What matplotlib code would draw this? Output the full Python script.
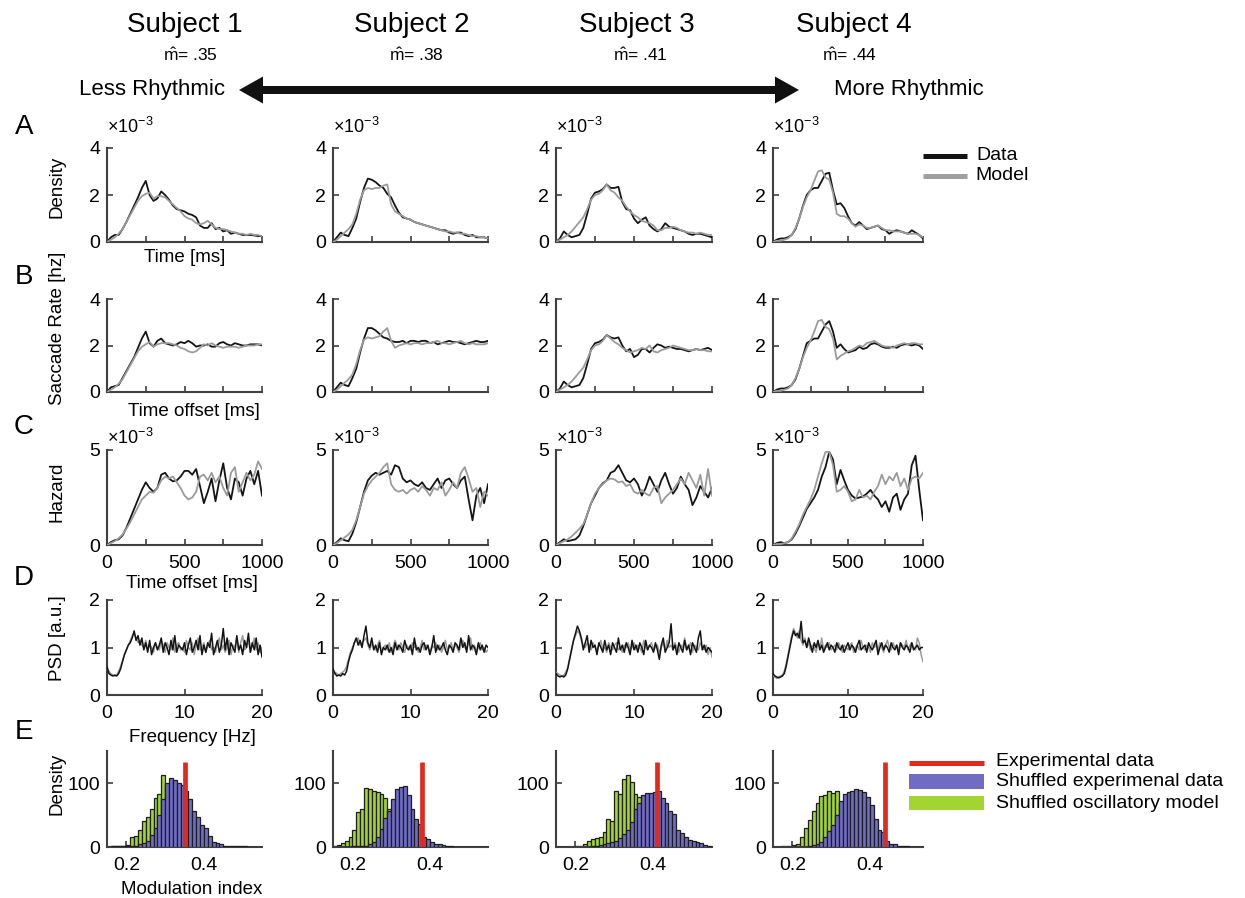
import numpy as np
import matplotlib
matplotlib.use("Agg")
import matplotlib.pyplot as plt
from matplotlib.patches import FancyArrow, Rectangle
from matplotlib.lines import Line2D

plt.rcParams["font.family"] = ["Liberation Sans", "DejaVu Sans"]
plt.rcParams["mathtext.fontset"] = "custom"
plt.rcParams["mathtext.rm"] = "Liberation Sans"
plt.rcParams["mathtext.it"] = "Liberation Sans:italic"
plt.rcParams["mathtext.bf"] = "Liberation Sans:bold"

# ---------------------------------------------------------------- data
subjects = ["Subject 1", "Subject 2", "Subject 3", "Subject 4"]
m_hat = [0.35, 0.38, 0.41, 0.44]          # modulation index of each subject

time_ms = np.arange(0, 1001, 25)          # 41 samples
freq_hz = np.arange(0, 20.001, 0.25)      # 81 samples
hist_edges = np.round(np.arange(0.15, 0.5501, 0.01), 2)   # 40 bins

# A: saccade density (x 1e-3)
density_data = [
    [0.0,0.2,0.3,0.3,0.55,0.85,1.2,1.55,1.9,2.3,2.6,2.0,1.75,1.85,2.15,2.0,1.8,1.55,1.4,1.35,1.3,1.2,1.15,1.05,0.7,0.6,0.6,0.8,0.55,0.6,0.45,0.5,0.35,0.4,0.35,0.3,0.3,0.3,0.28,0.25,0.25],
    [0,0.2,0.4,0.3,0.25,0.6,1.0,1.7,2.3,2.7,2.65,2.55,2.4,2.3,2.05,1.9,1.55,1.25,1.05,1.0,0.95,0.85,0.8,0.75,0.7,0.65,0.6,0.55,0.5,0.5,0.4,0.35,0.4,0.4,0.3,0.25,0.3,0.2,0.2,0.2,0.15],
    [0,0.15,0.45,0.3,0.2,0.25,0.3,0.6,1.2,1.85,2.1,2.15,2.25,2.45,2.3,2.3,2.35,1.7,1.4,1.35,1.0,0.8,0.95,1.05,0.7,0.55,0.45,0.55,0.8,0.65,0.6,0.55,0.5,0.45,0.35,0.3,0.35,0.35,0.3,0.25,0.2],
    [0,0.1,0.15,0.15,0.2,0.3,0.55,1.0,1.55,2.0,2.2,2.3,2.3,2.6,2.9,2.95,2.2,1.6,1.65,1.45,1.1,0.8,0.7,0.85,0.7,0.55,0.6,0.65,0.7,0.55,0.5,0.35,0.45,0.5,0.45,0.4,0.35,0.5,0.4,0.3,0.15],
]
density_model = [
    [0.0,0.1,0.2,0.35,0.55,0.85,1.15,1.45,1.75,1.95,2.05,2.1,1.85,1.95,1.95,1.9,1.75,1.6,1.45,1.3,1.1,1.0,0.95,0.8,0.75,0.8,0.9,0.75,0.6,0.55,0.55,0.5,0.45,0.4,0.35,0.35,0.3,0.35,0.3,0.3,0.25],
    [0,0.1,0.25,0.4,0.55,0.75,1.2,1.8,2.2,2.3,2.25,2.3,2.3,2.4,2.45,1.6,1.3,1.2,1.1,1.0,0.95,0.85,0.8,0.75,0.7,0.65,0.6,0.55,0.5,0.45,0.45,0.4,0.4,0.35,0.35,0.3,0.25,0.25,0.2,0.2,0.15],
    [0,0.1,0.2,0.3,0.45,0.65,0.85,1.05,1.4,1.8,2.0,2.05,2.2,2.45,2.2,2.1,1.9,1.75,1.5,1.3,1.15,1.05,0.9,0.85,0.8,0.7,0.5,0.5,0.6,0.6,0.65,0.6,0.5,0.45,0.4,0.4,0.35,0.4,0.35,0.3,0.3],
    [0,0.05,0.05,0.1,0.15,0.3,0.6,1.0,1.5,1.9,2.2,2.6,3.0,3.05,2.75,2.65,2.1,1.2,1.1,1.1,1.0,0.8,0.65,0.75,0.7,0.6,0.6,0.65,0.7,0.6,0.5,0.5,0.45,0.45,0.45,0.4,0.35,0.35,0.35,0.3,0.2],
]

# B: saccade rate [hz]
rate_data = [
    [0,0.2,0.25,0.3,0.6,0.9,1.2,1.5,1.9,2.3,2.6,2.1,1.95,2.2,2.3,2.1,2.05,2.0,2.05,2.15,2.1,2.2,2.1,1.95,2.0,2.0,2.05,1.95,1.95,2.1,2.15,2.05,2.0,2.1,2.05,2.0,2.0,2.05,2.05,2.05,2.0],
    [0,0.2,0.4,0.3,0.25,0.6,1.0,1.7,2.3,2.75,2.75,2.65,2.5,2.35,2.3,2.2,2.15,2.15,2.2,2.1,2.2,2.2,2.15,2.2,2.2,2.1,2.15,2.05,2.1,2.15,2.2,2.15,2.15,2.1,2.05,2.1,2.15,2.2,2.15,2.15,2.2],
    [0,0.15,0.45,0.3,0.2,0.25,0.3,0.6,1.2,1.85,2.1,2.15,2.25,2.45,2.35,2.3,2.35,2.0,1.75,1.85,1.5,1.6,1.85,1.85,1.7,1.9,2.05,2.0,1.9,1.95,1.9,1.85,1.85,1.8,1.75,1.8,1.85,1.8,1.85,1.9,1.8],
    [0,0.1,0.15,0.15,0.2,0.3,0.55,1.0,1.55,2.1,2.2,2.3,2.3,2.6,2.9,3.05,2.6,1.9,2.05,1.85,1.7,1.75,1.8,1.95,1.85,1.9,2.05,2.1,2.05,1.95,1.9,1.9,1.95,1.9,2.0,2.05,2.05,2.0,2.05,2.0,1.85],
]
rate_model = [
    [0,0.1,0.2,0.35,0.55,0.85,1.15,1.45,1.75,1.95,2.05,2.15,1.95,2.05,2.1,2.1,2.1,2.05,2.0,1.9,1.85,1.75,1.7,1.75,1.9,2.05,2.0,2.1,2.0,1.95,1.9,1.95,1.95,1.95,1.9,1.95,2.0,2.0,2.0,2.05,2.05],
    [0,0.1,0.25,0.4,0.55,0.75,1.2,1.8,2.25,2.35,2.3,2.35,2.4,2.6,2.75,2.2,1.9,2.0,2.05,2.1,2.05,2.1,2.1,2.05,2.1,2.1,2.15,2.2,2.1,2.1,2.05,2.1,2.15,2.2,2.1,2.05,2.1,2.05,2.05,2.05,2.1],
    [0,0.1,0.2,0.3,0.45,0.65,0.85,1.05,1.4,1.8,2.0,2.05,2.2,2.45,2.3,2.15,2.05,1.9,1.8,1.7,1.75,1.8,1.9,1.85,2.0,1.75,1.7,1.8,1.85,1.9,2.0,1.95,1.9,1.85,1.8,1.8,1.85,1.8,1.8,1.75,1.75],
    [0,0.05,0.05,0.1,0.15,0.3,0.6,1.0,1.5,1.9,2.2,2.6,3.05,3.1,2.8,2.7,2.3,1.4,1.55,1.65,1.75,1.8,1.9,2.0,1.95,2.1,2.15,2.2,2.1,2.0,1.95,1.95,1.9,2.0,2.05,2.1,2.05,2.1,2.1,2.05,2.05],
]

# C: hazard (x 1e-3)
hazard_data = [
    [0,0.15,0.25,0.3,0.5,0.9,1.4,1.9,2.4,2.9,3.3,3.0,2.8,3.0,3.7,3.8,3.5,3.35,3.4,3.6,3.9,3.9,3.7,4.0,3.1,2.2,2.8,3.5,2.3,3.4,4.3,3.0,2.4,3.5,3.3,2.6,3.5,3.9,3.2,3.9,2.6],
    [0,0.15,0.35,0.25,0.2,0.6,1.2,2.0,2.8,3.4,3.65,3.8,3.7,3.8,3.9,3.7,4.2,4.1,3.5,3.3,3.4,3.2,3.1,3.3,3.0,2.9,3.2,3.5,3.0,3.4,3.5,3.2,3.0,3.4,3.6,2.4,1.3,2.6,3.0,2.2,3.2],
    [0,0.15,0.3,0.2,0.25,0.3,0.5,1.0,1.6,2.2,2.6,3.0,3.25,3.4,3.8,3.9,4.2,3.8,3.4,3.3,3.5,3.2,2.6,3.0,3.6,3.2,2.8,3.4,3.8,3.2,2.7,3.0,3.6,3.2,2.9,2.1,2.5,3.1,2.8,2.5,3.0],
    [0,0.1,0.15,0.1,0.15,0.3,0.6,1.0,1.45,1.9,2.2,2.5,2.9,3.6,4.1,4.9,4.5,3.2,3.95,3.4,2.9,2.6,2.45,2.5,2.55,2.7,2.9,2.6,2.4,2.0,2.3,1.75,2.5,2.7,1.85,2.4,2.7,4.2,4.7,2.9,1.3],
]
hazard_model = [
    [0,0.1,0.2,0.35,0.55,0.85,1.2,1.6,2.0,2.4,2.6,2.8,2.75,3.0,3.4,3.6,3.5,3.6,3.3,3.0,2.6,2.4,2.5,2.8,3.6,3.7,3.4,3.8,3.3,3.6,3.0,2.6,3.8,4.1,2.8,3.3,3.8,3.4,3.7,4.4,4.0],
    [0,0.1,0.25,0.4,0.55,0.8,1.3,2.0,2.7,3.1,3.4,3.6,3.8,4.1,4.3,3.2,2.9,2.8,2.9,2.7,2.9,3.0,2.8,3.1,2.9,2.6,3.0,2.9,3.3,2.6,2.9,3.3,3.0,3.8,4.1,3.5,2.8,3.0,2.0,2.8,2.6],
    [0,0.1,0.2,0.3,0.45,0.65,0.85,1.1,1.6,2.2,2.7,3.0,3.2,3.4,3.5,3.45,3.3,3.35,3.1,3.2,2.8,2.7,2.9,2.7,2.6,3.0,3.1,2.2,2.5,2.7,2.9,3.2,3.5,3.2,3.8,3.4,3.0,3.7,2.6,4.0,2.6],
    [0,0.05,0.05,0.1,0.15,0.35,0.7,1.1,1.6,2.0,2.4,2.9,3.6,4.3,4.9,4.9,4.2,2.8,2.9,3.1,2.8,2.3,2.4,2.9,2.5,2.6,2.4,2.8,3.1,3.7,3.2,3.6,3.4,3.8,3.1,3.5,2.9,3.5,3.6,3.5,3.8],
]

# D: power spectral density [a.u.]
psd_data = [
    [0.60,0.45,0.42,0.40,0.42,0.40,0.45,0.55,0.70,0.85,
     0.95,1.05,1.10,1.20,1.35,1.15,1.25,1.05,1.20,0.95,
     1.10,0.90,1.15,0.85,1.00,1.10,0.95,1.05,1.20,0.90,
     1.10,1.00,0.85,1.15,0.95,1.25,0.90,1.05,1.00,0.95,
     1.10,0.85,1.05,1.20,0.90,1.00,1.15,0.95,1.25,0.85,
     1.05,0.90,1.10,1.00,1.30,0.85,1.00,1.15,0.90,1.05,
     1.40,0.95,1.20,0.85,1.10,1.00,0.90,1.25,0.95,1.05,
     0.85,1.15,1.00,1.30,0.90,1.10,0.95,1.20,0.85,1.05,
     0.80],
    [0.55,0.45,0.40,0.42,0.40,0.45,0.42,0.50,0.70,0.85,
     0.95,1.10,1.20,1.05,1.15,1.00,1.25,1.45,1.10,1.00,
     1.20,0.95,1.05,0.90,1.10,0.85,1.00,0.95,1.05,0.90,
     1.00,0.85,1.10,0.95,1.05,1.00,0.90,1.15,1.00,0.95,
     1.05,0.85,1.20,0.95,1.00,0.90,1.05,1.10,0.95,1.05,
     0.85,1.00,1.25,0.90,1.05,0.95,1.00,1.10,0.95,0.85,
     1.05,1.00,0.90,1.10,1.05,0.95,1.20,1.00,1.10,0.90,
     1.25,0.95,1.05,1.00,0.85,1.10,0.95,1.05,0.90,1.05,
     1.00],
    [0.45,0.40,0.38,0.40,0.38,0.42,0.55,0.75,0.95,1.15,
     1.30,1.45,1.35,1.20,0.95,1.10,1.25,0.90,1.15,1.00,
     1.05,0.85,1.10,1.00,0.90,1.15,0.95,1.05,0.85,1.10,
     1.00,0.90,1.20,0.95,1.05,0.90,1.10,1.00,0.85,1.15,
     0.95,1.05,0.90,1.10,1.00,0.85,1.15,0.95,1.05,1.00,
     0.90,1.10,0.95,0.75,1.05,1.20,0.90,1.00,1.10,1.50,
     0.95,1.05,0.85,1.10,1.00,0.90,1.15,0.95,1.05,0.85,
     1.10,1.00,0.90,1.20,1.35,0.95,1.05,0.90,1.00,0.95,
     0.90],
    [0.45,0.40,0.38,0.36,0.38,0.40,0.45,0.60,0.80,1.00,
     1.20,1.35,1.25,1.30,1.20,1.55,1.10,1.15,1.00,1.20,
     1.05,0.90,1.10,1.00,1.15,0.95,1.05,0.90,1.00,1.10,
     0.95,1.05,1.00,0.90,1.10,1.00,0.95,1.05,0.90,1.00,
     1.10,0.95,1.05,1.00,0.90,1.05,1.15,0.95,1.00,1.05,
     0.90,1.10,1.00,0.95,1.05,1.15,0.85,1.00,1.10,0.95,
     1.05,1.00,0.90,1.10,1.00,0.95,1.05,0.85,1.10,1.00,
     0.95,1.05,1.00,0.90,1.10,0.95,1.00,1.05,0.95,1.00,
     1.00],
]
psd_model = [
    [0.55,0.50,0.45,0.42,0.40,0.42,0.50,0.60,0.72,0.85,
     0.95,1.05,1.15,1.25,1.30,1.20,1.10,1.15,1.05,1.00,
     1.15,0.95,1.05,1.00,0.90,1.10,1.00,0.95,1.15,1.05,
     0.90,1.10,1.00,0.95,1.20,0.90,1.05,1.10,0.95,1.00,
     0.90,1.15,1.00,0.95,1.10,0.85,1.05,1.20,0.95,1.00,
     1.10,0.90,1.05,1.15,0.95,1.00,0.90,1.10,1.20,0.95,
     1.05,0.90,1.00,1.15,0.85,1.05,1.00,1.20,0.90,1.10,
     1.25,0.95,1.00,1.15,0.90,1.05,1.20,0.95,1.10,0.90,
     1.00],
    [0.50,0.48,0.45,0.42,0.45,0.48,0.52,0.60,0.75,0.90,
     1.00,1.10,1.15,1.20,1.05,1.10,1.15,1.20,1.05,0.95,
     1.10,1.00,0.95,1.05,1.15,0.90,1.00,1.05,0.95,1.10,
     0.90,1.00,1.15,1.05,0.95,1.10,1.00,0.90,1.05,1.00,
     0.95,1.10,1.00,1.05,0.90,1.00,1.15,0.95,1.05,1.00,
     0.90,1.05,1.00,1.10,0.95,1.05,0.90,1.00,1.15,0.95,
     1.00,1.10,0.95,1.05,1.00,0.90,1.05,1.15,1.00,0.95,
     1.10,1.20,0.95,1.05,0.90,1.00,1.10,0.95,1.00,0.90,
     0.95],
    [0.48,0.45,0.42,0.40,0.42,0.48,0.58,0.78,0.98,1.15,
     1.25,1.35,1.30,1.15,1.05,1.00,1.10,1.05,0.95,1.10,
     1.00,0.95,1.05,1.15,0.95,1.00,0.90,1.10,1.00,0.95,
     1.05,1.10,0.95,1.00,0.90,1.05,1.00,1.10,0.95,1.00,
     1.10,0.95,1.05,1.00,0.90,1.15,1.00,0.95,1.05,1.10,
     0.95,1.00,1.05,0.90,1.00,1.10,0.95,1.15,1.00,1.05,
     0.95,1.10,1.00,0.90,1.05,1.00,1.20,0.95,1.00,1.10,
     0.90,1.05,1.00,0.95,1.10,1.00,0.95,1.05,0.85,1.00,
     0.80],
    [0.42,0.38,0.35,0.38,0.40,0.42,0.50,0.65,0.85,1.05,
     1.25,1.40,1.30,1.20,1.35,1.15,1.05,1.20,1.00,1.10,
     0.95,1.05,1.00,0.90,1.10,1.00,1.20,0.95,1.05,1.00,
     1.10,0.95,1.00,1.05,0.95,1.10,1.00,0.90,1.05,1.00,
     0.95,1.05,1.10,0.90,1.00,1.05,0.95,1.15,1.00,0.95,
     1.05,1.00,0.90,1.10,1.00,1.05,0.95,1.10,1.00,0.90,
     1.05,1.15,1.00,0.95,1.10,1.00,1.05,0.95,1.10,1.05,
     1.00,1.15,0.95,1.05,1.10,1.00,0.95,1.20,1.10,0.85,
     0.70],
]

# E: modulation-index histograms (counts per 0.01 bin from 0.15 to 0.55)
shuffled_model = [
    [0,1,1,2,2,3,15,17,26,40, 47,60,77,83,113,95,80,55,35,20, 10,5,2,1,0,0,0,0,0,0, 0,0,0,0,0,0,0,0,0,0],
    [1,3,6,10,16,26,55,60,92,90, 88,86,83,77,60,45,30,18,8,4, 2,0,0,0,0,0,0,0,0,0, 0,0,0,0,0,0,0,0,0,0],
    [0,0,0,0,0,1,2,4,10,12, 14,15,23,44,40,88,83,107,113,101, 83,78,50,30,15,8,3,0,0,0, 0,0,0,0,0,0,0,0,0,0],
    [0,0,1,2,2,3,5,16,30,42, 56,68,79,81,88,84,87,70,50,30, 15,8,3,0,0,0,0,0,0,0, 0,0,0,0,0,0,0,0,0,0],
]
shuffled_data = [
    [0,1,1,1,1,1,1,2,4,6, 10,18,30,50,75,100,108,104,100,97, 88,75,57,47,35,30,17,8,7,5, 2,2,1,1,1,1,0,0,0,0],
    [0,0,0,0,0,1,1,1,2,4, 8,15,28,45,57,75,91,94,95,81, 60,43,36,16,13,8,5,4,3,1, 1,0,0,0,0,0,0,0,0,0],
    [0,0,0,0,0,0,0,0,0,1, 2,3,4,6,8,10,14,20,26,39, 59,68,81,85,85,86,88,76,69,57, 52,27,22,16,11,10,8,7,3,1],
    [0,0,0,0,0,0,0,0,0,2, 3,5,8,15,25,35,50,72,83,86, 88,90,89,86,78,65,44,26,23,10, 5,4,2,1,1,0,0,0,0,0],
]

# ---------------------------------------------------------------- style
C_DATA = "#141414"
C_MODEL = "#9b9b9b"
C_BLUE = "#706cc4"
C_GREEN = "#a2d432"
C_RED = "#e2291e"
C_AXIS = "#404040"

W, H = 1245, 898
fig = plt.figure(figsize=(W / 100, H / 100), dpi=100)


def fx(x):
    return x / W


def fy(y):
    return 1 - y / H


COL_X = [(107, 262), (333, 488), (556, 712), (773, 923)]
ROW_Y = [(148, 242), (299, 392), (450, 545), (600, 695), (751, 847)]


def make_ax(col, row):
    l, r = COL_X[col]
    t, b = ROW_Y[row]
    ax = fig.add_axes([fx(l), fy(b), (r - l) / W, (b - t) / H])
    for s in ("top", "right"):
        ax.spines[s].set_visible(False)
    for s in ("left", "bottom"):
        ax.spines[s].set_color(C_AXIS)
        ax.spines[s].set_linewidth(1.5)
    ax.tick_params(direction="in", length=4, width=1.2, color=C_AXIS,
                   labelsize=14, labelcolor="black")
    ax.tick_params(axis="x", pad=7.5)
    ax.tick_params(axis="y", pad=5)
    return ax


def ftext(x, y, s, **kw):
    fig.text(fx(x), fy(y), s, **kw)


time_ticks = [0, 250, 500, 750, 1000]

for i in range(4):
    # A, B, C: time courses
    for row, (dat, mod, ymax, yt) in enumerate([
        (density_data, density_model, 4, [0, 2, 4]),
        (rate_data, rate_model, 4, [0, 2, 4]),
        (hazard_data, hazard_model, 5, [0, 5]),
    ]):
        ax = make_ax(i, row)
        ax.plot(time_ms, dat[i], color=C_DATA, lw=1.3, zorder=3)
        ax.plot(time_ms, mod[i], color=C_MODEL, lw=1.3, zorder=4)
        ax.set_xlim(0, 1000)
        ax.set_ylim(0, ymax)
        ax.set_yticks(yt)
        ax.set_xticks(time_ticks)
        if row == 2:
            ax.set_xticklabels(["0", "", "500", "", "1000"])
        else:
            ax.set_xticklabels([])

    # D: spectra
    ax = make_ax(i, 3)
    ax.plot(freq_hz, psd_model[i], color=C_MODEL, lw=1.1, zorder=3)
    ax.plot(freq_hz, psd_data[i], color=C_DATA, lw=1.1, zorder=4)
    ax.set_xlim(0, 20)
    ax.set_ylim(0, 2)
    ax.set_xticks([0, 10, 20])
    ax.set_yticks([0, 1, 2])

    # E: histograms
    ax = make_ax(i, 4)
    width = np.diff(hist_edges)
    ax.bar(hist_edges[:-1], shuffled_model[i], width=width, align="edge",
           color=C_GREEN, edgecolor="#1e1e1e", linewidth=0.9, zorder=2)
    ax.bar(hist_edges[:-1], shuffled_data[i], width=width, align="edge",
           color=C_BLUE, edgecolor="#1e1e1e", linewidth=0.9, zorder=3)
    ax.plot([m_hat[i], m_hat[i]], [0, 133], color=C_RED, lw=3.4,
            solid_capstyle="butt", zorder=4)
    l, r = COL_X[i]
    ax.set_xlim(0.15, 0.15 + (r - l) / 387.5)
    ax.set_ylim(0, 150)
    ax.set_xticks([0.2, 0.4])
    ax.set_xticklabels(["0.2", "0.4"])
    ax.set_yticks([0, 100])

    # scale factor labels for rows A and C
    ftext(l, 127, r"$\times10^{-3}$", fontsize=13, ha="left", va="center")
    ftext(l, 438, r"$\times10^{-3}$", fontsize=13, ha="left", va="center")

# ---------------------------------------------------------------- header
title_x = [185, 412, 637, 854]
mhat_x = [190, 416, 640, 850]
for i in range(4):
    ftext(title_x[i], 25, subjects[i], fontsize=20, ha="center", va="center")
    ftext(mhat_x[i], 55, r"$\hat{\mathrm{m}}$= " + f"{m_hat[i]:.2f}"[1:],
          fontsize=12.5, ha="center", va="center")

ftext(152, 90, "Less Rhythmic", fontsize=16, ha="center", va="center")
ftext(909, 90, "More Rhythmic", fontsize=16, ha="center", va="center")

# double-headed arrow between the two captions
mid = (239 + 799) / 2
for tip in (239, 799):
    fig.add_artist(FancyArrow(fx(mid), fy(90), fx(tip) - fx(mid), 0,
                              width=8 / H, head_width=27 / H,
                              head_length=24 / W, length_includes_head=True,
                              color="#111111", lw=0,
                              transform=fig.transFigure))

# ---------------------------------------------------------------- labels
for letter, y in zip("ABCDE", [127, 277, 427, 578, 732]):
    ftext(24, y, letter, fontsize=20, ha="center", va="center")

ylabels = [("Density", 187), ("Saccade Rate [hz]", 328), ("Hazard", 492),
           ("PSD [a.u.]", 638), ("Density", 784)]
for text, y in ylabels:
    ftext(57, y, text, fontsize=13.5, rotation=90, ha="center", va="center")

xlabels = [("Time [ms]", 185, 258), ("Time offset [ms]", 194, 411),
           ("Time offset [ms]", 192, 583), ("Frequency [Hz]", 192, 738),
           ("Modulation index", 192, 889)]
for text, x, y in xlabels:
    ftext(x, y, text, fontsize=13.5, ha="center", va="center")

# ---------------------------------------------------------------- legends
fig.add_artist(Line2D([fx(923), fx(967)], [fy(156), fy(156)], color=C_DATA,
                      lw=3.6, solid_capstyle="butt", transform=fig.transFigure))
fig.add_artist(Line2D([fx(923), fx(967)], [fy(176), fy(176)], color="#a0a0a0",
                      lw=3.6, solid_capstyle="butt", transform=fig.transFigure))
ftext(976, 156, "Data", fontsize=14, ha="left", va="center")
ftext(975, 176, "Model", fontsize=14, ha="left", va="center")

fig.add_artist(Line2D([fx(909), fx(984)], [fy(763), fy(763)], color=C_RED,
                      lw=3.6, solid_capstyle="butt", transform=fig.transFigure))
fig.add_artist(Rectangle((fx(909), fy(789)), 75 / W, 15 / H, color=C_BLUE,
                         lw=0, transform=fig.transFigure))
fig.add_artist(Rectangle((fx(909), fy(810)), 75 / W, 14 / H, color=C_GREEN,
                         lw=0, transform=fig.transFigure))
ftext(996, 762, "Experimental data", fontsize=14, ha="left", va="center")
ftext(996, 782, "Shuffled experimenal data", fontsize=14, ha="left", va="center")
ftext(996, 803, "Shuffled oscillatory model", fontsize=14, ha="left", va="center")

fig.savefig("out.png", dpi=100, facecolor="white")
